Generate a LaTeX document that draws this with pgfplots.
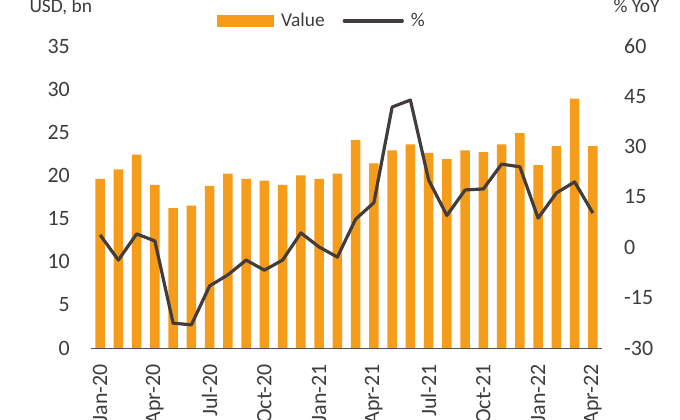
\documentclass[border=0pt]{standalone}
\usepackage{pgfplots}
\pgfplotsset{compat=1.18}
\usepackage{pgfplotstable}
\usepackage{fontspec}
\setmainfont{Carlito}
\definecolor{barorange}{RGB}{245,156,26}
\definecolor{linegray}{RGB}{66,60,60}
\definecolor{txt}{RGB}{60,60,60}

\pgfplotstableread{
x val pct
0 19.6 3.7
1 20.7 -3.8
2 22.4 4.0
3 18.9 1.9
4 16.2 -22.6
5 16.5 -23.1
6 18.8 -11.5
7 20.2 -8.2
8 19.6 -3.8
9 19.4 -6.8
10 18.9 -3.8
11 20.0 4.3
12 19.6 0.1
13 20.2 -2.9
14 24.1 8.4
15 21.4 13.3
16 22.9 41.8
17 23.6 43.9
18 22.6 20.1
19 21.9 9.5
20 22.9 17.1
21 22.7 17.4
22 23.6 24.8
23 24.9 24.0
24 21.2 8.7
25 23.4 16.2
26 28.9 19.5
27 23.4 10.2
}\data

\begin{document}
\begin{tikzpicture}
\path[use as bounding box] (0bp,0bp) rectangle (680bp,420bp);
\begin{axis}[
  at={(91bp,72bp)}, anchor=south west,
  scale only axis, width=511bp, height=302bp,
  xmin=-0.5, xmax=27.5, ymin=0, ymax=35,
  ytick={0,5,...,35},
  xtick={0,3,...,27},
  xticklabels={Jan-20,Apr-20,Jul-20,Oct-20,Jan-21,Apr-21,Jul-21,Oct-21,Jan-22,Apr-22},
  axis x line*=bottom, axis y line*=left,
  y axis line style={draw=none},
  x axis line style={draw=txt!90, line width=0.8bp, -},
  major tick length=0pt,
  /pgf/number format/assume math mode=true,
  tick label style={font=\fontsize{22}{24}\selectfont, text=txt},
  yticklabel style={anchor=east, inner sep=0pt, xshift=-21bp},
  xticklabel style={yshift=-16bp, rotate=90, anchor=east, inner sep=0pt},
  legend style={at={(0.452,1.083)}, anchor=center, draw=none, fill=none,
    font=\fontsize{19.5}{21}\selectfont, text=txt,
    /tikz/every odd column/.append style={column sep=5bp},
    /tikz/every even column/.append style={column sep=16bp}},
  legend columns=2,
]
\addplot[ybar, bar width=9.5bp, fill=barorange, draw=none,
  legend image code/.code={\fill[barorange] (0bp,-6bp) rectangle (57bp,6bp);}]
  table[x=x, y=val] {\data};
\addlegendentry{Value}
\addlegendimage{legend image code/.code={\draw[linegray, line width=3.2bp, line cap=round] (0bp,0bp) -- (58bp,0bp);}}
\addlegendentry{\%}
\end{axis}
\begin{axis}[
  at={(91bp,72bp)}, anchor=south west,
  scale only axis, width=511bp, height=302bp,
  xmin=-0.5, xmax=27.5, ymin=-30, ymax=60,
  ytick={-30,-15,...,60},
  axis x line=none, axis y line*=right,
  y axis line style={draw=none},
  major tick length=0pt,
  /pgf/number format/assume math mode=true,
  tick label style={font=\fontsize{22}{24}\selectfont, text=txt},
  yticklabel style={anchor=west, inner sep=0pt, xshift=22bp},
]
\addplot[linegray, line width=3.2bp, line join=round, mark=none]
  table[x=x, y=pct] {\data};
\end{axis}
\node[anchor=base west, font=\fontsize{19.5}{21}\selectfont, text=txt] at (26bp,407.5bp) {USD, bn};
\node[anchor=base west, font=\fontsize{19.5}{21}\selectfont, text=txt] at (610bp,407.5bp) {\% YoY};
\end{tikzpicture}
\end{document}
